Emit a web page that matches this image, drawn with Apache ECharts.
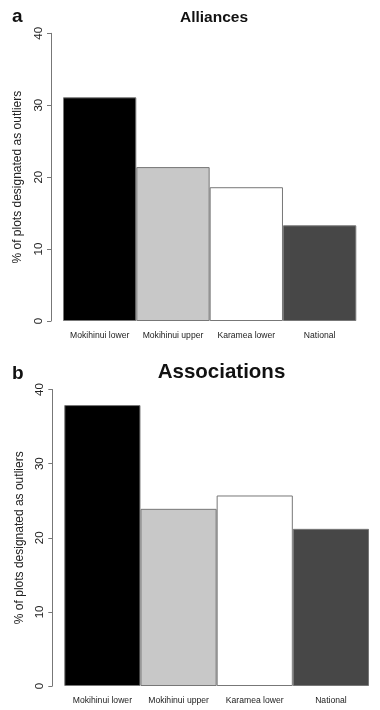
<!DOCTYPE html>
<html><head><meta charset="utf-8">
<script src="https://cdn.jsdelivr.net/npm/echarts@6/dist/echarts.min.js"></script>
<style>html,body{margin:0;padding:0;background:#fff}#c{width:380px;height:710px}</style>
</head><body><div id="c"></div>
<script>
const categories = ["Mokihinui lower", "Mokihinui upper", "Karamea lower", "National"];
const alliances = [31.1, 21.4, 18.6, 13.3];
const associations = [37.9, 23.9, 25.7, 21.2];
const barColors = ["#000000", "#c8c8c8", "#ffffff", "#474747"];
const yTicks = [0, 10, 20, 30, 40];
const yName = "% of plots designated as outliers";
const FONT = "'Liberation Sans', Arial, Helvetica, sans-serif";

const chart = echarts.init(document.getElementById('c'));
function yAx(gi) {
  return {
    type: 'value', gridIndex: gi, min: yTicks[0], max: yTicks[yTicks.length - 1], interval: 10, offset: 12,
    name: yName, nameLocation: 'middle', nameGap: 27,
    nameTextStyle: {fontFamily: FONT, fontSize: 12, color: '#222'},
    axisLine: {show: true, lineStyle: {color: '#777', width: 1}},
    axisTick: {show: true, length: 4, lineStyle: {color: '#777'}},
    axisLabel: {rotate: 90, fontFamily: FONT, fontSize: 11.5, color: '#222', margin: 6},
    splitLine: {show: false}
  };
}
function xAx(gi) {
  return {
    type: 'category', gridIndex: gi, data: categories,
    axisLine: {show: false}, axisTick: {show: false},
    axisLabel: {fontFamily: FONT, fontSize: 8.6, color: '#222', margin: 10, interval: 0}
  };
}
function ser(i, vals) {
  return {
    type: 'bar', xAxisIndex: i, yAxisIndex: i, barCategoryGap: '0%',
    data: vals.map((v, k) => ({value: v, itemStyle: {color: barColors[k]}})),
    itemStyle: {borderColor: '#777', borderWidth: 1}, silent: true
  };
}
chart.setOption({
  animation: false,
  backgroundColor: '#fff',
  title: [
    {text: 'Alliances', left: 209, top: 5, textAlign: 'center', textStyle: {fontFamily: FONT, fontSize: 15.5, fontWeight: 'bold', color: '#111'}},
    {text: 'a', left: 7, top: 2, textStyle: {fontFamily: FONT, fontSize: 19, fontWeight: 'bold', color: '#111'}},
    {text: 'Associations', left: 216.5, top: 357, textAlign: 'center', textStyle: {fontFamily: FONT, fontSize: 20.5, fontWeight: 'bold', color: '#111'}},
    {text: 'b', left: 7, top: 359, textStyle: {fontFamily: FONT, fontSize: 19, fontWeight: 'bold', color: '#111'}}
  ],
  grid: [
    {left: 63, right: 23.7, top: 33.3, height: 287.7},
    {left: 64.3, right: 11, top: 389.5, height: 296.5}
  ],
  xAxis: [xAx(0), xAx(1)],
  yAxis: [yAx(0), yAx(1)],
  series: [ser(0, alliances), ser(1, associations)]
});
</script></body></html>
